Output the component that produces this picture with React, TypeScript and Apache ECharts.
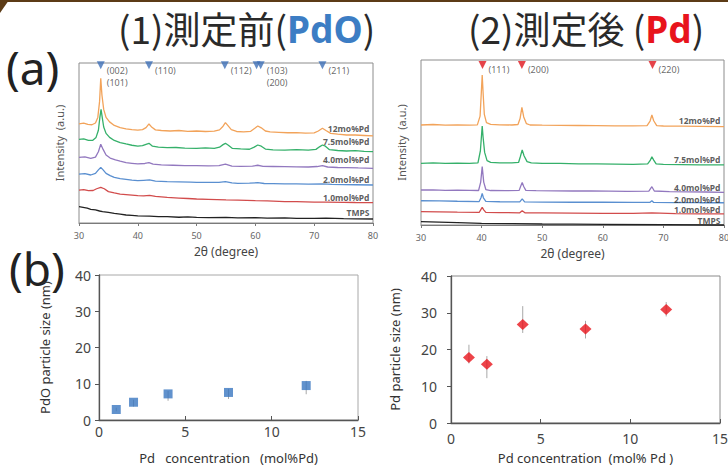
import React, { useEffect, useRef } from "react";
import * as echarts from "echarts";

// ---------- XRD (a)(1) before measurement: PdO ----------
const PDO_NAMES = ["12mo%Pd", "7.5mol%Pd", "4.0mol%Pd", "2.0mol%Pd", "1.0mol%Pd", "TMPS"];
const PDO_COLORS = ["#f2a35a", "#35b06a", "#9278bf", "#5a8fd0", "#d24c4c", "#222222"];
const PDO_12 = [[30,61.9],[30.8,62.4],[31.5,61.6],[32.2,61.4],[32.8,62.5],[33.2,66],[33.5,76],[33.7,90.4],[33.9,80],[34.2,71],[34.6,66],[35.2,63.2],[36,61],[37,59.6],[38,58.8],[39,58.3],[40,58.1],[40.8,58.4],[41.4,59.6],[41.9,61.9],[42.4,59.8],[43,58.2],[44,57.8],[45.5,57.5],[47,57.8],[48.5,57.3],[50,57.5],[51.5,57.2],[53,57.4],[53.9,58.2],[54.5,60.5],[54.9,62.7],[55.3,61],[55.9,58.4],[56.8,57.2],[58,57],[59.2,57.3],[59.9,59.2],[60.4,60.6],[61,59.5],[61.7,57.5],[62.5,56.9],[64,56.7],[65.5,56.4],[67,56.5],[68.5,56.2],[70,56.3],[70.7,57.5],[71.4,59.2],[72,57.8],[72.8,56],[74,55.5],[75.5,55],[77,55],[78.5,54.7],[80,54.4]];
const PDO_75 = [[30,52.3],[30.8,52.6],[31.6,51.7],[32.3,51.6],[32.9,53.5],[33.3,58],[33.55,66],[33.75,71],[33.95,66],[34.2,60],[34.6,56],[35.2,53.5],[36,51.6],[37,50.3],[38,49.4],[39,48.6],[40,48.1],[40.8,48.3],[41.4,49.2],[41.9,49.8],[42.5,48],[43.5,47.4],[45,47.1],[46.5,47.2],[48,46.8],[50,46.7],[51.5,46.9],[53,46.6],[53.9,47.4],[54.5,49],[54.9,49.8],[55.4,48.6],[56.1,46.6],[57.5,46.3],[59,46.1],[59.8,47.4],[60.4,48.75],[61,48],[61.7,46.2],[63,45.7],[65,45.6],[67,45.8],[69,45.5],[70.3,46],[70.9,47.6],[71.4,48.75],[71.9,48],[72.6,45.8],[74,45.3],[75.5,45],[77,45.2],[78.5,44.8],[80,44.6]];
const PDO_40 = [[30,41],[31,41.3],[32,40.4],[32.8,41.2],[33.3,44.5],[33.7,49.2],[34.1,46],[34.6,42.5],[35.3,40.6],[36.2,39.4],[37,38.6],[38,37.7],[39,37.3],[40,36.9],[41.2,37.2],[41.9,37.8],[42.6,36.8],[44,36.3],[46,36.1],[48,35.9],[50,35.8],[52,35.7],[53.8,35.9],[54.9,36.8],[56,35.6],[57.5,35.4],[59.5,35.5],[60.4,36.1],[61.3,35.4],[63,35.3],[65,35.2],[67,35.1],[69,35],[70.5,35.3],[71.4,35.9],[72.3,35],[74,34.7],[75.5,34.6],[77.5,34.4],[80,34.2]];
const PDO_20 = [[30,30.6],[31,30.9],[32,30],[32.8,31],[33.3,33.2],[33.7,34.8],[34.1,33.2],[34.6,31],[35.3,29.6],[36,28.5],[37,27.8],[38,27.3],[39,26.8],[40,26.5],[41,26.7],[42,26.9],[43,26.2],[45,25.8],[47,25.7],[49,25.5],[50,25.4],[52,25.4],[53.8,25.4],[54.9,25.9],[56,25.1],[57,24.8],[59,24.9],[60.4,25.2],[61.5,24.7],[63,24.6],[65,24.4],[67,24.5],[69,24.3],[71.4,24.5],[73,24.1],[75,24],[77,23.9],[80,23.75]];
const PDO_10 = [[30,20.6],[30.8,20.9],[31.6,20.2],[32.4,20.3],[33,21.4],[33.7,22.3],[34.3,21.4],[35,19.6],[36,18.8],[37,18.1],[38.5,17.6],[40,17.1],[41,17],[42,17.3],[43,16.6],[45,16],[47,15.6],[48.5,15.3],[50,15],[52,14.8],[55,14.4],[57,14.3],[60,13.96],[62,13.8],[65,13.3],[67,13.4],[70,13.1],[72,13.1],[75,12.9],[77,12.8],[80,12.7]];
const PDO_TMPS = [[30,10.2],[30.7,9.8],[31.4,9.3],[32,8.5],[32.8,8.2],[33.5,7.5],[34,7.1],[35,6.6],[36,6],[37,5.6],[38,5],[39,4.8],[40,4.4],[42,4.3],[43.5,4],[45,4],[47,3.6],[48.5,3.8],[50,3.5],[52,3.4],[55,3.5],[57,3.2],[60,3.3],[62,3.1],[65,3.2],[67,2.9],[70,2.9],[72,3],[75,2.7],[77,2.6],[80,2.5]];
const PDO_CURVES = [PDO_12, PDO_75, PDO_40, PDO_20, PDO_10, PDO_TMPS];
const PDO_LABEL_Y = [59.2, 51.25, 39.4, 26.9, 16.1, 6.4];
const PDO_PEAKS = [33.7, 41.9, 54.8, 60.2, 60.9, 71.4];
const PDO_PEAK_LABELS = ["(002)\n(101)", "(110)", "(112)", "", "(103)\n(200)", "(211)"];

// ---------- XRD (a)(2) after measurement: Pd ----------
const PD_NAMES = ["12mo%Pd", "7.5mol%Pd", "4.0mol%Pd", "2.0mol%Pd", "1.0mol%Pd", "TMPS"];
const PD_12 = [[30,60.6],[32,60.9],[34,60.5],[36,60.7],[38,60.5],[39.3,60.7],[39.75,66],[39.95,80],[40.1,90.9],[40.25,80],[40.45,67],[40.8,62],[41.5,61],[43,60.7],[45,60.6],[46,60.9],[46.35,64.5],[46.65,71.3],[46.95,65.5],[47.4,61.4],[48,60.6],[50,60.5],[53,60.4],[56,60.3],[59,60.2],[62,60.1],[65,60.1],[67.3,60.2],[67.8,63],[68.1,66.7],[68.4,63.2],[68.9,60.2],[70,60],[73,59.9],[76,59.8],[80,59.6]];
const PD_75 = [[30,37.4],[32,37.6],[34,37.3],[36,37.5],[38,37.4],[39.4,37.6],[39.8,45],[40.0,55],[40.1,60],[40.25,53],[40.5,44],[40.9,39],[41.5,38],[43,37.7],[45,37.6],[46.1,37.9],[46.4,41.5],[46.7,45.5],[47,42],[47.5,38.4],[48.2,37.6],[50,37.4],[53,37.3],[56,37.1],[59,37],[62,36.9],[65,36.8],[67.4,37],[67.8,39],[68.1,41.4],[68.4,39.3],[68.8,37],[70,36.7],[73,36.6],[76,36.5],[80,36.4]];
const PD_40 = [[30,21.2],[32,21.3],[34,21],[36,21.1],[38,21],[39.5,20.9],[39.85,26],[40.1,35.4],[40.35,26],[40.7,21.5],[41.5,20.9],[44,20.8],[46.2,21],[46.45,23.5],[46.7,25.7],[46.95,23.3],[47.3,21],[49,20.8],[52,20.7],[55,20.6],[58,20.6],[61,20.5],[64,20.4],[67.6,20.5],[68.1,23.2],[68.5,20.6],[71,20.2],[74,20.1],[77,20],[80,19.8]];
const PD_20 = [[30,14.7],[33,14.6],[36,14.4],[39.6,14.2],[39.9,16.5],[40.1,19.2],[40.3,16.5],[40.7,14.3],[43,14.1],[46.3,14],[46.7,15.8],[47.1,14],[50,13.9],[55,13.8],[60,13.8],[65,13.7],[67.8,13.8],[68.1,14.7],[68.4,13.7],[72,13.6],[76,13.5],[80,13.5]];
const PD_10 = [[30,8.1],[33,8],[36,7.8],[39.6,7.6],[39.9,9.5],[40.1,10.7],[40.35,9.2],[40.7,7.6],[43,7.5],[46.3,7.4],[46.7,8.7],[47.2,7.3],[50,7.3],[55,7.2],[60,7.1],[65,7.1],[68.1,7.4],[72,6.9],[76,6.8],[80,6.7]];
const PD_TMPS = [[30,2.0],[33,1.7],[36,1.4],[40,1.0],[45,0.8],[50,0.6],[55,0.5],[60,0.4],[70,0.2],[80,0]];
const PD_CURVES = [PD_12, PD_75, PD_40, PD_20, PD_10, PD_TMPS];
const PD_LABEL_Y = [63.6, 39.6, 22.8, 15.6, 9.1, 3.0];
const PD_PEAKS = [40.15, 46.65, 68.2];
const PD_PEAK_LABELS = ["(111)", "(200)", "(220)"];

// ---------- (b) particle sizes ----------
const CONC = [1, 2, 4, 7.5, 12];
const PDO_SIZE = [2.9, 4.9, 7.2, 7.6, 9.5];
const PDO_LO = [2.4, 3.7, 5.3, 5.8, 7.1];
const PDO_HI = [3.4, 5.6, 8.0, 8.6, 10.8];
const PD_SIZE = [17.8, 16.0, 26.8, 25.6, 30.9];
const PD_LO = [16.2, 12.2, 24.5, 23.0, 29.0];
const PD_HI = [21.3, 18.2, 31.8, 27.8, 32.9];

const FONT = "'Noto Sans', 'DejaVu Sans', sans-serif";
const CJK = "'Noto Sans CJK JP', 'Noto Sans', sans-serif";

function xrdXAxis(gridIndex: number) {
  return {
    type: "value", gridIndex, min: 30, max: 80, interval: 10,
    axisLine: { show: true, lineStyle: { color: "#7a7a7a", width: 1 } },
    axisTick: { show: true, length: 3, lineStyle: { color: "#7a7a7a" } },
    axisLabel: { fontSize: 9, color: "#666", margin: 8, fontFamily: FONT },
    splitLine: { show: false },
    name: "2θ (degree)", nameLocation: "middle", nameGap: 22,
    nameTextStyle: { fontSize: 12, color: "#444", fontFamily: FONT },
  };
}
function xrdYAxis(gridIndex: number, min: number) {
  return {
    type: "value", gridIndex, min, max: 100,
    axisLine: { show: false }, axisTick: { show: false }, axisLabel: { show: false },
    splitLine: { show: false },
    name: "Intensity  (a.u.)", nameLocation: "middle", nameRotate: 90, nameGap: 14,
    nameTextStyle: { fontSize: 11, color: "#555", fontFamily: FONT },
  };
}
function sizeXAxis(gridIndex: number, name: string, margin: number, nameGap: number) {
  return {
    type: "value", gridIndex, min: 0, max: 15, interval: 5,
    axisLine: { show: true, onZero: false, lineStyle: { color: "#555", width: 1.3 } },
    axisTick: { show: true, length: 4, inside: true, lineStyle: { color: "#555" } },
    axisLabel: { fontSize: 14, color: "#444", margin, fontFamily: FONT },
    splitLine: { show: false },
    name, nameLocation: "middle", nameGap,
    nameTextStyle: { fontSize: 13, color: "#333", fontFamily: FONT },
  };
}
function sizeYAxis(gridIndex: number, name: string, margin: number, nameGap: number) {
  return {
    type: "value", gridIndex, min: 0, max: 40, interval: 10,
    axisLine: { show: true, onZero: false, lineStyle: { color: "#555", width: 1.3 } },
    axisTick: { show: true, length: 4, lineStyle: { color: "#555" } },
    axisLabel: { fontSize: 14, color: "#444", margin, fontFamily: FONT },
    splitLine: { show: false },
    name, nameLocation: "middle", nameRotate: 90, nameGap,
    nameTextStyle: { fontSize: 13, color: "#333", fontFamily: FONT },
  };
}

function curveSeries(curves: number[][][], colors: string[], axis: number) {
  return curves.map((c, i) => ({
    type: "line", xAxisIndex: axis, yAxisIndex: axis, data: c,
    showSymbol: false, symbol: "none", clip: false,
    lineStyle: { color: colors[i], width: 1.3 }, z: 3,
  }));
}
function nameSeries(names: string[], ys: number[], axis: number) {
  return {
    type: "scatter", xAxisIndex: axis, yAxisIndex: axis, symbolSize: 1, clip: false,
    itemStyle: { color: "rgba(0,0,0,0)" },
    data: names.map((n, i) => ({ name: n, value: [80, ys[i]] })),
    label: {
      show: true, position: "left", distance: 3, formatter: "{b}",
      fontSize: 8.5, lineHeight: 9, fontWeight: "bold", color: "#333", fontFamily: FONT,
    },
    z: 5,
  };
}
function peakSeries(peaks: number[], labels: string[], y: number, color: string, axis: number) {
  return {
    type: "scatter", xAxisIndex: axis, yAxisIndex: axis, symbol: "triangle", symbolRotate: 180,
    symbolSize: 8, clip: false, itemStyle: { color },
    data: peaks.map((p, i) => ({ name: labels[i], value: [p, y] })),
    label: {
      show: true, position: [10, 3], align: "left", verticalAlign: "top",
      formatter: "{b}", fontSize: 9, lineHeight: 12, color: "#444", fontFamily: FONT,
    },
    z: 6,
  };
}
function errSeries(lo: number[], hi: number[], axis: number) {
  return {
    type: "custom", xAxisIndex: axis, yAxisIndex: axis,
    data: CONC.map((c, i) => [c, lo[i], hi[i]]),
    encode: { x: 0, y: [1, 2] },
    renderItem: (params: any, api: any) => {
      const x = api.value(0);
      const p1 = api.coord([x, api.value(1)]);
      const p2 = api.coord([x, api.value(2)]);
      return {
        type: "line",
        shape: { x1: p1[0], y1: p1[1], x2: p2[0], y2: p2[1] },
        style: { stroke: "#a8a8a8", lineWidth: 1 },
      };
    },
    z: 2,
  };
}

export default function App() {
  const ref = useRef<HTMLDivElement>(null);
  useEffect(() => {
    document.body.style.margin = "0";
    if (!ref.current) return;
    const chart = echarts.init(ref.current, null, { renderer: "svg" });
    const option: any = {
      animation: false,
      backgroundColor: "#ffffff",
      grid: [
        { left: 79, top: 63, width: 294, height: 160, show: true, borderColor: "#8c8c8c", borderWidth: 1, outerBoundsMode: "none" },
        { left: 421, top: 60, width: 303, height: 165, show: true, borderColor: "#8c8c8c", borderWidth: 1, outerBoundsMode: "none" },
        { left: 99, top: 275, width: 259, height: 145, show: true, borderColor: "#a8a8a8", borderWidth: 1, outerBoundsMode: "none" },
        { left: 451, top: 276, width: 269, height: 147, show: true, borderColor: "#8a8a8a", borderWidth: 1, outerBoundsMode: "none" },
      ],
      xAxis: [
        xrdXAxis(0),
        xrdXAxis(1),
        sizeXAxis(2, "Pd   concentration   (mol%Pd)", 4, 31),
        sizeXAxis(3, "Pd concentration  (mol% Pd )", 8, 28),
      ],
      yAxis: [
        xrdYAxis(0, 0),
        xrdYAxis(1, 0),
        sizeYAxis(2, "PdO particle size (nm)", 8, 48),
        sizeYAxis(3, "Pd particle size (nm)", 14, 50),
      ],
      series: [
        ...curveSeries(PDO_CURVES, PDO_COLORS, 0),
        nameSeries(PDO_NAMES, PDO_LABEL_Y, 0),
        peakSeries(PDO_PEAKS, PDO_PEAK_LABELS, 98.6, "#3d6fb6", 0),
        ...curveSeries(PD_CURVES, PDO_COLORS, 1),
        nameSeries(PD_NAMES, PD_LABEL_Y, 1),
        peakSeries(PD_PEAKS, PD_PEAK_LABELS, 97, "#e0141c", 1),
        errSeries(PDO_LO, PDO_HI, 2),
        {
          type: "scatter", xAxisIndex: 2, yAxisIndex: 2, symbol: "rect", symbolSize: 9,
          itemStyle: { color: "#3a77c0" }, data: CONC.map((c, i) => [c, PDO_SIZE[i]]), z: 4,
        },
        errSeries(PD_LO, PD_HI, 3),
        {
          type: "scatter", xAxisIndex: 3, yAxisIndex: 3, symbol: "diamond", symbolSize: [12, 11],
          itemStyle: { color: "#e8141c" }, data: CONC.map((c, i) => [c, PD_SIZE[i]]), z: 4,
        },
      ],
      graphic: [
        { type: "rect", shape: { x: 0, y: 0, width: 728, height: 2 }, style: { fill: "#5c3b16" } },
        { type: "polygon", shape: { points: [[0, 0], [9, 0], [0, 13]] }, style: { fill: "#5c3b16" } },
        {
          type: "text", x: 6, y: 67,
          style: { text: "(a)", fontSize: 46, fontFamily: FONT, fill: "#222", verticalAlign: "middle" },
        },
        {
          type: "text", x: 9, y: 268,
          style: { text: "(b)", fontSize: 46, fontFamily: FONT, fill: "#222", verticalAlign: "middle" },
        },
        {
          type: "text", x: 118, y: 28,
          style: {
            text: "{n|(1)測定前(}{p|PdO}{n|)}", verticalAlign: "middle",
            rich: {
              n: { fontSize: 37, fontFamily: CJK, fill: "#2a2a2a", color: "#2a2a2a" },
              p: { fontSize: 37, fontFamily: FONT, fontWeight: "bold", fill: "#3c7dc4", color: "#3c7dc4" },
            },
          },
        },
        {
          type: "text", x: 468, y: 28,
          style: {
            text: "{n|(2)測定後 (}{r|Pd}{n|)}", verticalAlign: "middle",
            rich: {
              n: { fontSize: 37, fontFamily: CJK, fill: "#2a2a2a", color: "#2a2a2a" },
              r: { fontSize: 37, fontFamily: FONT, fontWeight: "bold", fill: "#e8141c", color: "#e8141c" },
            },
          },
        },
      ],
    };
    chart.setOption(option);
    return () => chart.dispose();
  }, []);
  return <div ref={ref} style={{ position: "fixed", left: 0, top: 0, width: 728, height: 465 }} />;
}
